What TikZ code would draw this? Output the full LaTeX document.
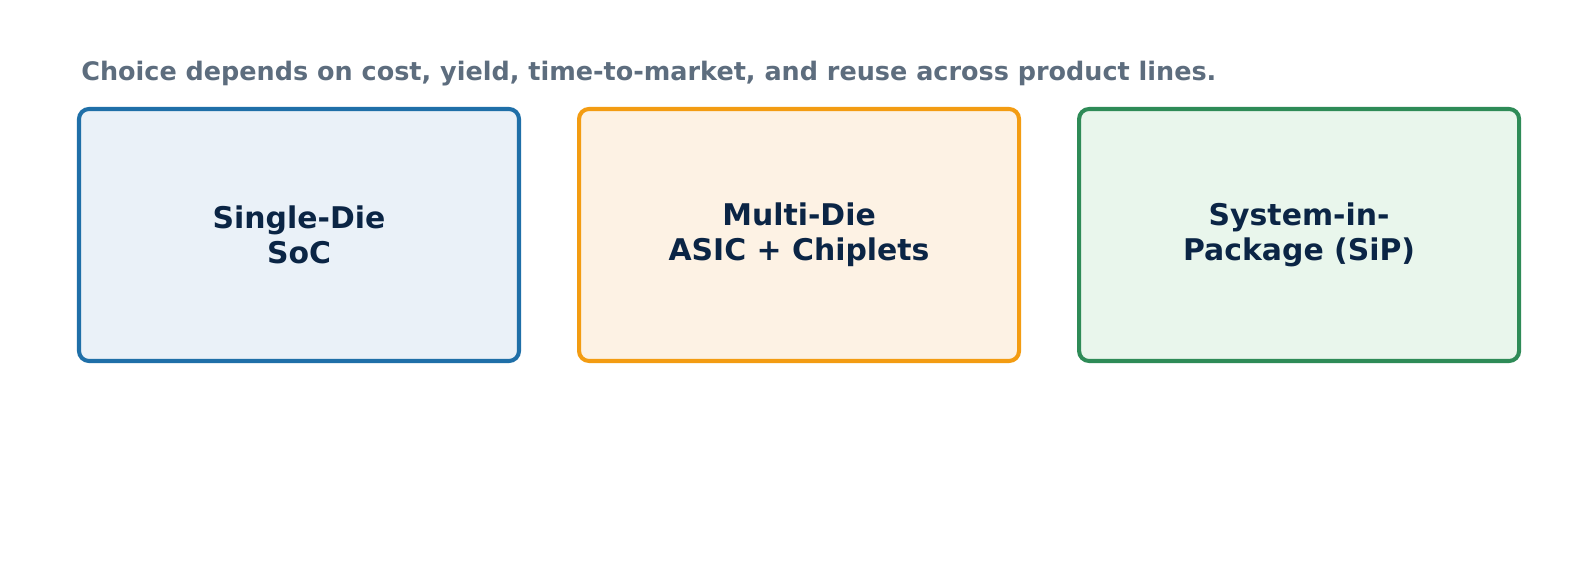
\documentclass[tikz,border=0pt]{standalone}
\usepackage{fontspec}
\setmainfont{DejaVu Sans}
\usetikzlibrary{positioning}
\definecolor{soc}{HTML}{1F6FA8}
\definecolor{socfill}{HTML}{EAF1F8}
\definecolor{chip}{HTML}{F39C12}
\definecolor{chipfill}{HTML}{FDF2E4}
\definecolor{sip}{HTML}{2E8B57}
\definecolor{sipfill}{HTML}{E9F6EC}
\definecolor{ink}{HTML}{0B2545}
\definecolor{note}{HTML}{5D6D7E}
\begin{document}
\begin{tikzpicture}[
            node distance=1.12cm,
            box/.style={rectangle, rounded corners=0.2cm, line width=2.3pt,
              minimum width=8.8cm, minimum height=5.04cm, align=center,
              text=ink, font=\fontsize{17}{20}\selectfont\bfseries}
        ]
        \useasboundingbox (0,0) rectangle (31.78,11.26);
        % caption
        \node (cap) [anchor=west, text=note, font=\fontsize{14.5}{17}\selectfont\bfseries, inner sep=0pt]
            at (1.62,9.78) {Choice depends on cost, yield, time-to-market, and reuse across product lines.};
        % three options
        \node (single) [box, draw=soc, fill=socfill] at (5.98,6.56) {Single-Die\\SoC};
        \node (multi) [box, draw=chip, fill=chipfill, right=of single] {Multi-Die\\ASIC + Chiplets};
        \node (sip) [box, draw=sip, fill=sipfill, right=of multi] {System-in-\\Package (SiP)};
\end{tikzpicture}
\end{document}
